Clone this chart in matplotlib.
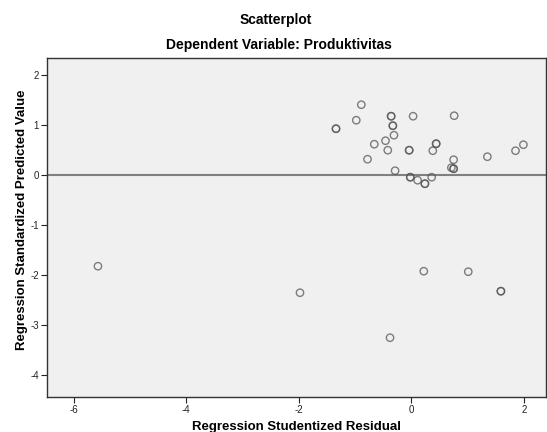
import matplotlib
matplotlib.use("Agg")
import matplotlib.pyplot as plt

# Regression Studentized Residual (x) and Regression Standardized Predicted Value (y)
resid = [-0.89, -0.98, -1.34, -1.34, -0.36, -0.36, 0.03, 0.76, -0.33, -0.33,
         -0.31, -0.66, -0.46, -0.42, -0.78, -0.04, -0.04, 0.44, 0.44, 0.38,
         0.75, 0.71, 0.75, 0.75, -0.29, -0.02, -0.02, 0.11, 0.24, 0.24,
         0.36, 1.35, 1.85, 1.99,
         -5.57, -1.98, 0.22, 1.01, 1.59, 1.59, -0.38]
pred = [1.41, 1.10, 0.93, 0.93, 1.18, 1.18, 1.18, 1.19, 0.99, 0.99,
        0.80, 0.62, 0.69, 0.50, 0.32, 0.50, 0.50, 0.63, 0.63, 0.49,
        0.31, 0.15, 0.13, 0.13, 0.09, -0.04, -0.04, -0.10, -0.17, -0.17,
        -0.04, 0.37, 0.49, 0.61,
        -1.82, -2.35, -1.92, -1.93, -2.32, -2.32, -3.25]

x_ticks = [-6, -4, -2, 0, 2]
y_ticks = [2, 1, 0, -1, -2, -3, -4]

title = "Scatterplot"
subtitle = "Dependent Variable: Produktivitas"
xlabel = "Regression Studentized Residual"
ylabel = "Regression Standardized Predicted Value"

plt.rcParams['font.family'] = ['Liberation Sans', 'DejaVu Sans']
plt.rcParams['axes.unicode_minus'] = False

fig = plt.figure(figsize=(5.47, 4.32), dpi=100)
ax = fig.add_axes([0.0865, 0.0817, 0.9115, 0.7847])
ax.set_facecolor('#f0f0f0')

ax.axhline(0, color='#808080', lw=1.5, zorder=1)
ax.scatter(resid, pred, s=28, facecolors='none', edgecolors='#555555',
           linewidths=1.0, alpha=0.75, zorder=3)

ax.set_xlim(-6.47, 2.39)
ax.set_ylim(-4.43, 2.35)
ax.set_xticks(x_ticks)
ax.set_yticks(y_ticks)
ax.tick_params(axis='both', direction='out', length=4, width=0.8,
               labelsize=7, colors='#222222', pad=2)
for sp in ax.spines.values():
    sp.set_color('#333333')
    sp.set_linewidth(1.0)

ax.set_xlabel(xlabel, fontsize=9.5, fontweight='bold', labelpad=4)
ax.set_ylabel(ylabel, fontsize=9.5, fontweight='bold')
ax.yaxis.set_label_coords(-0.039, 0.521)

fig.text(0.505, 0.954, title, ha='center', va='center', fontsize=10, fontweight='bold')
fig.text(0.51, 0.896, subtitle, ha='center', va='center', fontsize=10, fontweight='bold')

fig.savefig('out.png', dpi=100, facecolor='white')
